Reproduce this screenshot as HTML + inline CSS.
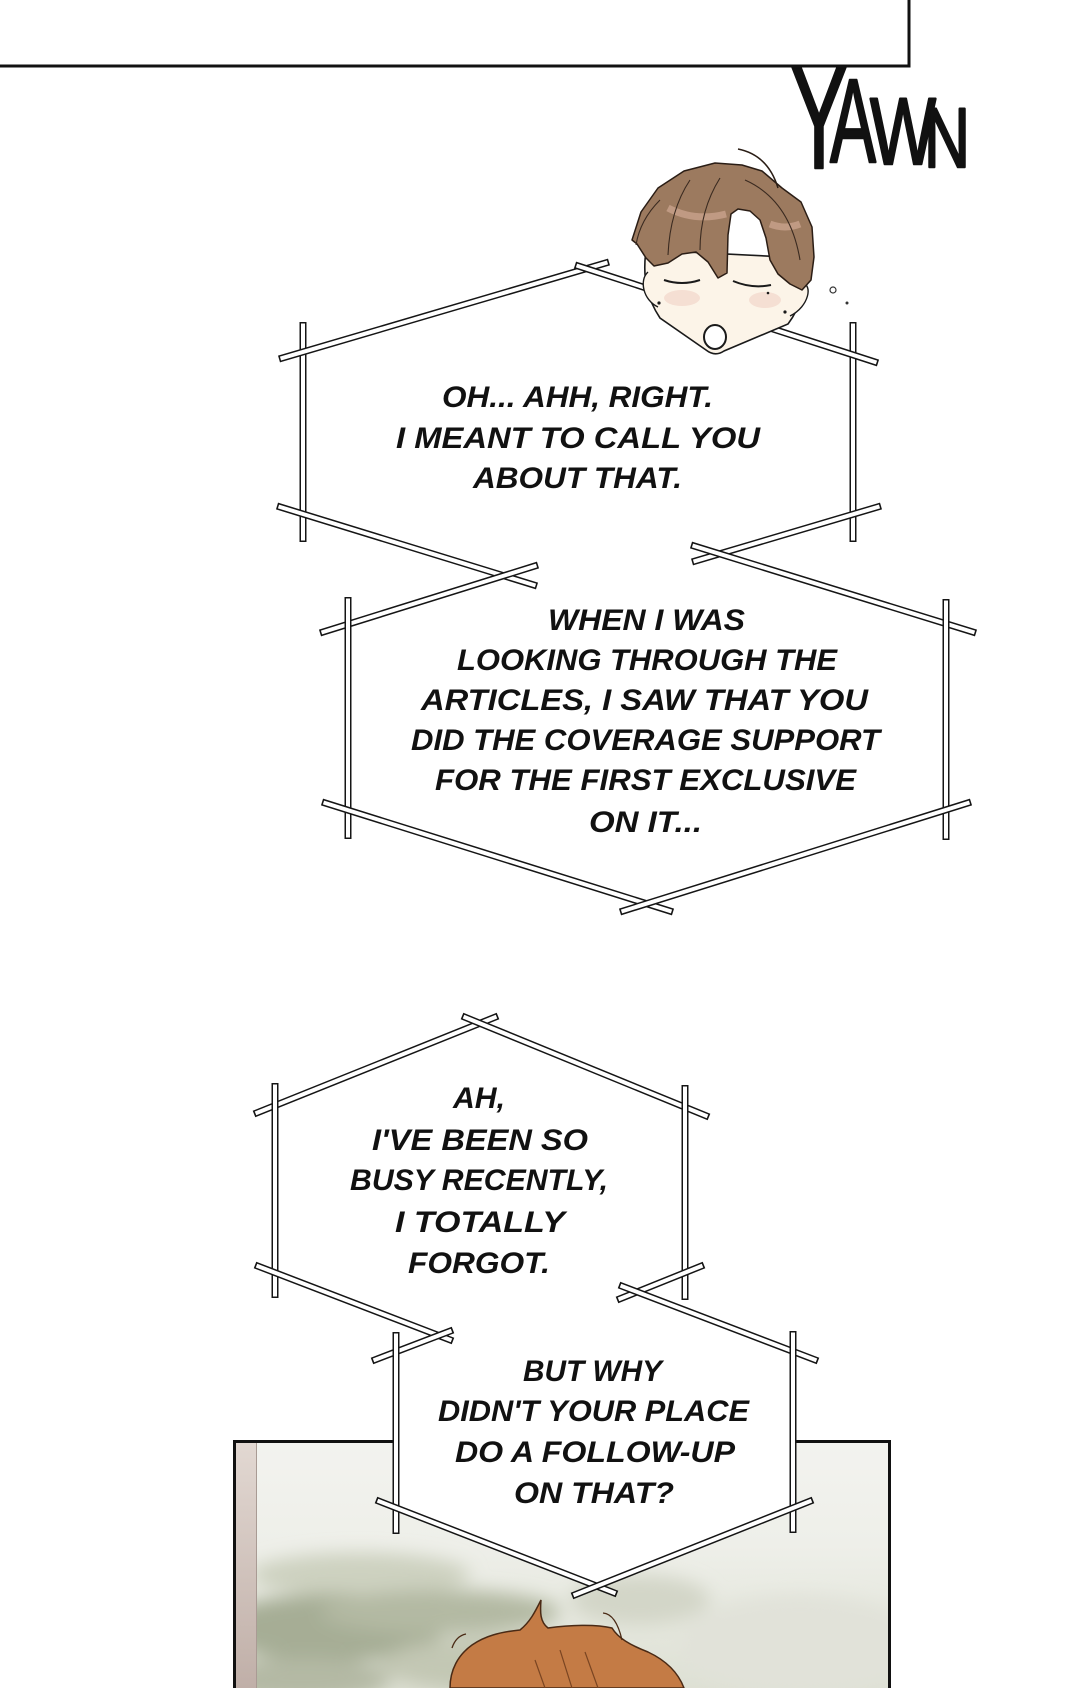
<!DOCTYPE html>
<html><head><meta charset="utf-8"><style>
html,body{margin:0;padding:0;background:#fff;}
svg{display:block;}
.t{font-family:"Liberation Sans",Arial,sans-serif;font-weight:bold;font-style:italic;font-size:30px;fill:#111;}
.y{font-family:"Liberation Sans",Arial,sans-serif;font-weight:normal;fill:#111;stroke:#111;stroke-width:2.5;stroke-linejoin:round;}
.bk{stroke:#151515;stroke-width:7;fill:none;stroke-linecap:butt;}
.wh{stroke:#fff;stroke-width:4;fill:none;stroke-linecap:butt;}
</style></head><body>
<svg width="1080" height="1688" viewBox="0 0 1080 1688" xmlns="http://www.w3.org/2000/svg">
<defs>
<linearGradient id="sky" x1="0" y1="0" x2="0" y2="1">
<stop offset="0" stop-color="#f3f3ef"/><stop offset="0.4" stop-color="#eeefe9"/><stop offset="1" stop-color="#dcdfd2"/>
</linearGradient>
<linearGradient id="strip" x1="0" y1="0" x2="0" y2="1">
<stop offset="0" stop-color="#e2d8d2"/><stop offset="1" stop-color="#c0afa8"/>
</linearGradient>
<filter id="blur" x="-20%" y="-20%" width="140%" height="140%"><feGaussianBlur stdDeviation="9"/></filter>
<clipPath id="pc"><rect x="236" y="1443" width="652" height="245"/></clipPath>
</defs>
<rect width="1080" height="1688" fill="#fff"/>

<!-- top panel -->
<rect x="-10" y="-10" width="919" height="76" fill="#fff" stroke="#111" stroke-width="3"/>

<!-- YAWN -->
<text class="y" x="790" y="168" font-size="147" textLength="58" lengthAdjust="spacingAndGlyphs">Y</text>
<text class="y" x="830" y="162" font-size="119" textLength="46" lengthAdjust="spacingAndGlyphs">A</text>
<text class="y" x="870" y="164" font-size="95" textLength="66" lengthAdjust="spacingAndGlyphs">W</text>
<text class="y" x="924" y="167" font-size="84" textLength="46" lengthAdjust="spacingAndGlyphs">N</text>

<!-- bottom panel -->
<rect x="234.5" y="1441.5" width="655" height="260" fill="url(#sky)" stroke="#111" stroke-width="3"/>
<g clip-path="url(#pc)">
<g filter="url(#blur)">
<ellipse cx="360" cy="1575" rx="110" ry="22" fill="#cdd1c0"/>
<ellipse cx="330" cy="1628" rx="115" ry="34" fill="#a6ad95"/>
<ellipse cx="440" cy="1612" rx="120" ry="22" fill="#b3b9a3"/>
<ellipse cx="300" cy="1680" rx="90" ry="22" fill="#b4b9a4"/>
<ellipse cx="500" cy="1665" rx="120" ry="28" fill="#c3c7b4"/>
<ellipse cx="640" cy="1600" rx="70" ry="25" fill="#d3d6c8"/>
<ellipse cx="800" cy="1645" rx="120" ry="50" fill="#e1e2d9"/>
</g>
<rect x="236" y="1443" width="20" height="245" fill="url(#strip)"/>
<line x1="256.5" y1="1443" x2="256.5" y2="1688" stroke="#a99b94" stroke-width="1"/>
</g>
<!-- bottom character hair -->
<path d="M450,1688 C450,1670 458,1655 472,1645 C485,1636 500,1632 520,1630 C530,1622 535,1612 541,1600 C540,1612 540,1622 548,1628 C570,1625 595,1624 612,1628 C618,1638 630,1645 648,1652 C665,1660 678,1672 684,1688 Z" fill="#c47b45" stroke="#4a2a15" stroke-width="1.5"/>
<path d="M603,1613 Q616,1614 622,1640" fill="none" stroke="#4a2a15" stroke-width="1.3"/>
<path d="M452,1648 Q456,1636 466,1634" fill="none" stroke="#4a2a15" stroke-width="1.3"/>
<path d="M560,1650 L572,1688 M585,1652 L598,1688 M535,1660 L545,1688" fill="none" stroke="#7a4522" stroke-width="1.2"/>

<!-- bubble fills -->
<polygon points="303,330 590,268 853,330 853,520 700,560 610,575 348,615 348,830 647,905 946,830 946,615 700,548 853,510 853,330" fill="#fff"/>
<polygon points="396,1335 453,1331 619,1290 793,1360 793,1508 597,1586 396,1508" fill="#fff"/>

<!-- bubble bars -->
<g>
<line class="bk" x1="303" y1="322" x2="303" y2="542"/><line class="wh" x1="303" y1="323.5" x2="303" y2="540.5"/>
<line class="bk" x1="853" y1="322" x2="853" y2="542"/><line class="wh" x1="853" y1="323.5" x2="853" y2="540.5"/>
<line class="bk" x1="279" y1="359" x2="609" y2="262"/><line class="wh" x1="280.5" y1="358.6" x2="607.5" y2="262.4"/>
<line class="bk" x1="575" y1="265" x2="878" y2="363"/><line class="wh" x1="576.5" y1="265.5" x2="876.5" y2="362.5"/>
<line class="bk" x1="277" y1="506" x2="537" y2="586"/><line class="wh" x1="278.5" y1="506.5" x2="535.5" y2="585.5"/>
<line class="bk" x1="881" y1="506" x2="692" y2="562"/><line class="wh" x1="879.5" y1="506.4" x2="693.5" y2="561.6"/>

<line class="bk" x1="320" y1="633" x2="538" y2="565"/><line class="wh" x1="321.5" y1="632.5" x2="536.5" y2="565.5"/>
<line class="bk" x1="691" y1="545" x2="976" y2="633"/><line class="wh" x1="692.5" y1="545.5" x2="974.5" y2="632.5"/>
<line class="bk" x1="348" y1="597" x2="348" y2="839"/><line class="wh" x1="348" y1="598.5" x2="348" y2="837.5"/>
<line class="bk" x1="946" y1="599" x2="946" y2="840"/><line class="wh" x1="946" y1="600.5" x2="946" y2="838.5"/>
<line class="bk" x1="322" y1="802" x2="673" y2="912"/><line class="wh" x1="323.5" y1="802.5" x2="671.5" y2="911.5"/>
<line class="bk" x1="971" y1="802" x2="620" y2="912"/><line class="wh" x1="969.5" y1="802.5" x2="621.5" y2="911.5"/>

<line class="bk" x1="254" y1="1114" x2="498" y2="1016"/><line class="wh" x1="255.5" y1="1113.4" x2="496.5" y2="1016.6"/>
<line class="bk" x1="462" y1="1016" x2="709" y2="1117"/><line class="wh" x1="463.5" y1="1016.6" x2="707.5" y2="1116.4"/>
<line class="bk" x1="275" y1="1083" x2="275" y2="1298"/><line class="wh" x1="275" y1="1084.5" x2="275" y2="1296.5"/>
<line class="bk" x1="685" y1="1085" x2="685" y2="1300"/><line class="wh" x1="685" y1="1086.5" x2="685" y2="1298.5"/>
<line class="bk" x1="255" y1="1265" x2="453" y2="1341"/><line class="wh" x1="256.5" y1="1265.6" x2="451.5" y2="1340.4"/>
<line class="bk" x1="704" y1="1265" x2="617" y2="1300"/><line class="wh" x1="702.5" y1="1265.6" x2="618.5" y2="1299.4"/>

<line class="bk" x1="372" y1="1361" x2="453" y2="1330"/><line class="wh" x1="373.5" y1="1360.4" x2="451.5" y2="1330.6"/>
<line class="bk" x1="619" y1="1285" x2="818" y2="1361"/><line class="wh" x1="620.5" y1="1285.6" x2="816.5" y2="1360.4"/>
<line class="bk" x1="396" y1="1332" x2="396" y2="1534"/><line class="wh" x1="396" y1="1333.5" x2="396" y2="1532.5"/>
<line class="bk" x1="793" y1="1331" x2="793" y2="1533"/><line class="wh" x1="793" y1="1332.5" x2="793" y2="1531.5"/>
<line class="bk" x1="376" y1="1500" x2="617" y2="1594"/><line class="wh" x1="377.5" y1="1500.6" x2="615.5" y2="1593.4"/>
<line class="bk" x1="813" y1="1500" x2="572" y2="1596"/><line class="wh" x1="811.5" y1="1500.6" x2="573.5" y2="1595.4"/>
</g>

<!-- head -->
<g>
<path d="M646,250 C642,280 648,300 660,318 L706,350 Q715,357 724,351 L788,324 C800,308 807,288 806,258 Z" fill="#fcf4e8" stroke="#1a1a1a" stroke-width="1.6"/>
<path d="M648,272 C639,280 643,300 658,307" fill="#fcf4e8" stroke="#1a1a1a" stroke-width="1.4"/>
<path d="M803,284 C812,284 810,306 790,316" fill="#fcf4e8" stroke="#1a1a1a" stroke-width="1.4"/>
<ellipse cx="682" cy="298" rx="18" ry="8" fill="#f2d6cb" opacity="0.7"/>
<ellipse cx="765" cy="300" rx="16" ry="8" fill="#f2d6cb" opacity="0.7"/>
<polygon points="632,240 641,212 658,188 684,171 715,163 742,165 762,171 782,188 801,202 812,227 814,257 811,280 802,290 790,284 778,274 770,260 766,238 760,220 750,211 738,209 731,214 728,235 727,273 718,278 708,262 696,252 682,254 668,263 654,266 646,258 637,244" fill="#9c7a5f" stroke="#2a1d15" stroke-width="1.5" stroke-linejoin="round"/>
<path d="M668,208 Q695,222 726,214" fill="none" stroke="#c9a28c" stroke-width="7" opacity="0.8"/>
<path d="M770,224 Q785,230 800,224" fill="none" stroke="#c9a28c" stroke-width="7" opacity="0.8"/>
<path d="M690,180 Q670,210 668,255 M720,178 Q700,210 700,250 M745,180 Q790,200 800,260 M660,200 Q640,220 636,245" fill="none" stroke="#3a2a20" stroke-width="1.1"/>
<path d="M738,149 Q768,155 778,188" fill="none" stroke="#2a1d15" stroke-width="1.5"/>
<path d="M664,280 Q682,286 700,280" fill="none" stroke="#1a1a1a" stroke-width="2"/>
<path d="M733,281 Q752,289 771,285" fill="none" stroke="#1a1a1a" stroke-width="2"/>
<circle cx="768" cy="293" r="1.3" fill="#1a1a1a"/>
<circle cx="659" cy="303" r="1.6" fill="#1a1a1a"/>
<circle cx="785" cy="312" r="1.6" fill="#1a1a1a"/>
<ellipse cx="715" cy="337" rx="11" ry="12" fill="#fff" stroke="#1a1a1a" stroke-width="2"/>
<circle cx="833" cy="290" r="3" fill="none" stroke="#333" stroke-width="1.2"/>
<circle cx="847" cy="303" r="1.5" fill="#333"/>
</g>

<!-- bubble 1 text -->
<text class="t" x="442" y="407" textLength="271" lengthAdjust="spacingAndGlyphs">OH... AHH, RIGHT.</text>
<text class="t" x="396" y="448" textLength="364" lengthAdjust="spacingAndGlyphs">I MEANT TO CALL YOU</text>
<text class="t" x="473" y="488" textLength="209" lengthAdjust="spacingAndGlyphs">ABOUT THAT.</text>

<!-- bubble 2 text -->
<text class="t" x="548" y="630" textLength="197" lengthAdjust="spacingAndGlyphs">WHEN I WAS</text>
<text class="t" x="457" y="670" textLength="380" lengthAdjust="spacingAndGlyphs">LOOKING THROUGH THE</text>
<text class="t" x="421" y="710" textLength="447" lengthAdjust="spacingAndGlyphs">ARTICLES, I SAW THAT YOU</text>
<text class="t" x="411" y="750" textLength="469" lengthAdjust="spacingAndGlyphs">DID THE COVERAGE SUPPORT</text>
<text class="t" x="435" y="790" textLength="421" lengthAdjust="spacingAndGlyphs">FOR THE FIRST EXCLUSIVE</text>
<text class="t" x="589" y="832" textLength="113" lengthAdjust="spacingAndGlyphs">ON IT...</text>

<!-- bubble 3 text -->
<text class="t" x="453" y="1108" textLength="52" lengthAdjust="spacingAndGlyphs">AH,</text>
<text class="t" x="372" y="1150" textLength="216" lengthAdjust="spacingAndGlyphs">I'VE BEEN SO</text>
<text class="t" x="350" y="1190" textLength="258" lengthAdjust="spacingAndGlyphs">BUSY RECENTLY,</text>
<text class="t" x="395" y="1232" textLength="170" lengthAdjust="spacingAndGlyphs">I TOTALLY</text>
<text class="t" x="408" y="1273" textLength="142" lengthAdjust="spacingAndGlyphs">FORGOT.</text>

<!-- bubble 4 text -->
<text class="t" x="523" y="1381" textLength="139" lengthAdjust="spacingAndGlyphs">BUT WHY</text>
<text class="t" x="438" y="1421" textLength="311" lengthAdjust="spacingAndGlyphs">DIDN'T YOUR PLACE</text>
<text class="t" x="455" y="1462" textLength="280" lengthAdjust="spacingAndGlyphs">DO A FOLLOW-UP</text>
<text class="t" x="514" y="1503" textLength="160" lengthAdjust="spacingAndGlyphs">ON THAT?</text>
</svg>
</body></html>
